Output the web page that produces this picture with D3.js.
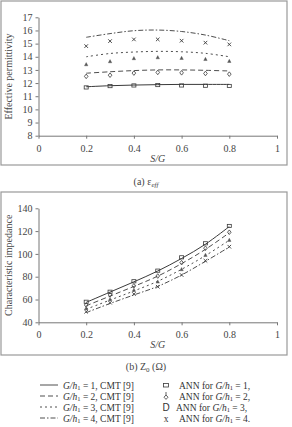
<!DOCTYPE html>
<html><head><meta charset="utf-8">
<script src="https://cdn.jsdelivr.net/npm/d3@7"></script>
<style>
body{margin:0;background:#fff;}
svg{display:block;font-family:"Liberation Serif","Times New Roman",serif;}
</style></head>
<body><svg id="c" width="292" height="427"></svg>
<script>
const sg = [0.2,0.3,0.4,0.5,0.6,0.7,0.8];
const xTicks = [0,0.2,0.4,0.6,0.8,1];
const epsTicks = [8,9,10,11,12,13,14,15,16,17];
const zTicks = [40,60,80,100,120,140];
// (a) effective permittivity
const epsCMT1 = [11.72,11.8,11.85,11.88,11.9,11.9,11.9];
const epsCMT2 = [12.75,12.86,12.95,13.0,13.0,12.97,12.92];
const epsCMT3 = [14.0,14.25,14.36,14.41,14.38,14.26,14.0];
const epsCMT4 = [15.48,15.76,15.98,16.03,15.92,15.65,15.22];
const epsANN1 = [11.67,11.77,11.82,11.85,11.82,11.8,11.78];
const epsANN2 = [12.51,12.6,12.76,12.81,12.78,12.73,12.68];
const epsANN3 = [13.42,13.65,13.88,13.95,13.9,13.82,13.67];
const epsANN4 = [14.81,15.19,15.32,15.32,15.22,15.07,14.94];
// (b) characteristic impedance
const zCMT1 = [57.5,66.5,75.5,85,96,108.5,124];
const zCMT2 = [54.5,63,71.5,80.5,91.5,104,118.5];
const zCMT3 = [51.5,59.5,67.5,76,86.5,98.5,112];
const zCMT4 = [48.5,56.5,64,71.5,81.5,93.5,106];
const zANN1 = [58,66.8,76,85.3,97,109.3,124.5];
const zANN2 = [55.2,64,72,80.6,92.3,105,119];
const zANN3 = [52.3,60.2,68.3,75.6,86.5,99,112.2];
const zANN4 = [49.3,57.2,64.8,71.2,81.5,94,106.3];

const dashes = [null,"5,3","2,3","5,2,1.5,2"];
const ink = "#3a3a3a";
const svg = d3.select("#c");

function panel(o){
  const g = svg.append("g");
  g.append("rect").attr("x",o.box[0]).attr("y",o.box[1]).attr("width",o.box[2]).attr("height",o.box[3])
    .attr("fill","none").attr("stroke","#999").attr("stroke-width",1.2);
  const x = d3.scaleLinear().domain([0,1]).range([o.x0,o.x1]);
  const y = d3.scaleLinear().domain(o.ydom).range([o.yb,o.yt]);
  const xa = g.append("g").attr("transform",`translate(0,${o.yb})`)
    .call(d3.axisBottom(x).tickValues(xTicks).tickFormat(d3.format("")).tickSize(3).tickSizeOuter(0).tickPadding(6));
  const ya = g.append("g").attr("transform",`translate(${o.x0},0)`)
    .call(d3.axisLeft(y).tickValues(o.yticks).tickFormat(d3.format("")).tickSize(3).tickSizeOuter(0).tickPadding(3));
  [xa,ya].forEach(a=>{
    a.selectAll("path,line").attr("stroke","#777");
    a.selectAll("text").attr("fill","#444").attr("font-size",10).attr("font-family","Liberation Serif");
  });
  g.append("text").attr("x",(o.x0+o.x1)/2).attr("y",o.yb+26).attr("text-anchor","middle")
    .attr("font-size",10).attr("font-style","italic").attr("fill","#444").text("S/G");
  g.append("text").attr("transform",`translate(12,${(o.yt+o.yb)/2}) rotate(-90)`).attr("text-anchor","middle")
    .attr("font-size",10).attr("fill","#444").text(o.ylabel);
  const line = d3.line().x((d,i)=>x(sg[i])).y(d=>y(d)).curve(d3.curveCatmullRom);
  o.lines.forEach((s,k)=>{
    g.append("path").attr("d",line(s)).attr("fill","none").attr("stroke",ink)
      .attr("stroke-width",k===0?1:0.9).attr("stroke-dasharray",dashes[k]);
  });
  o.anns.forEach((s,k)=>{
    s.forEach((v,i)=>drawMarker(g,k,x(sg[i]),y(v)));
  });
}
function drawMarker(g,k,cx,cy){
  if(k===0){
    g.append("rect").attr("x",cx-2).attr("y",cy-1.6).attr("width",4).attr("height",3.2)
      .attr("fill","none").attr("stroke",ink).attr("stroke-width",0.8);
  } else if(k===1){
    g.append("path").attr("d",`M${cx},${cy-2.3}L${cx+1.8},${cy}L${cx},${cy+2.3}L${cx-1.8},${cy}Z`)
      .attr("fill","none").attr("stroke",ink).attr("stroke-width",0.8);
  } else if(k===2){
    g.append("path").attr("d",`M${cx},${cy-1.8}L${cx+1.7},${cy+1.4}L${cx-1.7},${cy+1.4}Z`)
      .attr("fill","#555").attr("stroke","#555").attr("stroke-width",0.4);
  } else {
    g.append("path").attr("d",`M${cx-1.8},${cy-1.8}L${cx+1.8},${cy+1.8}M${cx+1.8},${cy-1.8}L${cx-1.8},${cy+1.8}`)
      .attr("stroke",ink).attr("stroke-width",0.9);
  }
}

panel({box:[1,1,286,164],x0:38.5,x1:277,yb:135.7,yt:17.3,ydom:[8,17],yticks:epsTicks,
  ylabel:"Effective permittivity",lines:[epsCMT1,epsCMT2,epsCMT3,epsCMT4],anns:[epsANN1,epsANN2,epsANN3,epsANN4]});
panel({box:[1,192,286,163],x0:38.5,x1:277,yb:322.3,yt:208.3,ydom:[40,140],yticks:zTicks,
  ylabel:"Characteristic impedance",lines:[zCMT1,zCMT2,zCMT3,zCMT4],anns:[zANN1,zANN2,zANN3,zANN4]});

// captions
const capA = svg.append("text").attr("x",146).attr("y",185).attr("text-anchor","middle").attr("font-size",10).attr("fill","#444");
capA.append("tspan").text("(a) ε");
capA.append("tspan").attr("font-size",7).attr("font-style","italic").attr("dy",2).text("eff");
const capB = svg.append("text").attr("x",146).attr("y",370).attr("text-anchor","middle").attr("font-size",10).attr("fill","#444");
capB.append("tspan").text("(b) Z");
capB.append("tspan").attr("font-size",7).attr("dy",2).text("0");
capB.append("tspan").attr("dy",-2).text(" (Ω)");

// legend
const legRows = [1,2,3,4];
const legY = [385,396,407,418];
legRows.forEach((n,k)=>{
  const yy = legY[k];
  svg.append("line").attr("x1",40).attr("x2",58).attr("y1",yy).attr("y2",yy)
    .attr("stroke",ink).attr("stroke-width",0.9).attr("stroke-dasharray",dashes[k]);
  const t = svg.append("text").attr("x",63).attr("y",yy+3.5).attr("font-size",9.5).attr("fill","#333");
  t.append("tspan").attr("font-style","italic").text("G/h");
  t.append("tspan").attr("font-size",6.5).attr("dy",1.5).text("1");
  t.append("tspan").attr("dy",-1.5).text(` = ${n}, CMT [9]`);
  const mx = 166;
  if(k===0){
    svg.append("rect").attr("x",mx-2.5).attr("y",yy-1.5).attr("width",5).attr("height",3.5)
      .attr("fill","none").attr("stroke",ink).attr("stroke-width",0.8);
  } else if(k===1){
    svg.append("path").attr("d",`M${mx},${yy-4}L${mx},${yy-1}M${mx},${yy-1}L${mx+2},${yy+1.2}L${mx},${yy+3.4}L${mx-2},${yy+1.2}Z`)
      .attr("fill","none").attr("stroke",ink).attr("stroke-width",0.8);
  } else {
    svg.append("text").attr("x",mx).attr("y",yy+3.5).attr("text-anchor","middle")
      .attr("font-size",k===2?10:9.5).attr("fill","#333")
      .attr("font-family",k===2?"Liberation Sans":"Liberation Serif").text(k===2?"D":"x");
  }
  const t2 = svg.append("text").attr("x",k===2?176:179).attr("y",yy+3.5).attr("font-size",9.5).attr("fill","#333");
  t2.append("tspan").text("ANN for ");
  t2.append("tspan").attr("font-style","italic").text("G/h");
  t2.append("tspan").attr("font-size",6.5).attr("dy",1.5).text("1");
  t2.append("tspan").attr("dy",-1.5).text(` = ${n}` + (k===3?".":","));
});
</script></body></html>
